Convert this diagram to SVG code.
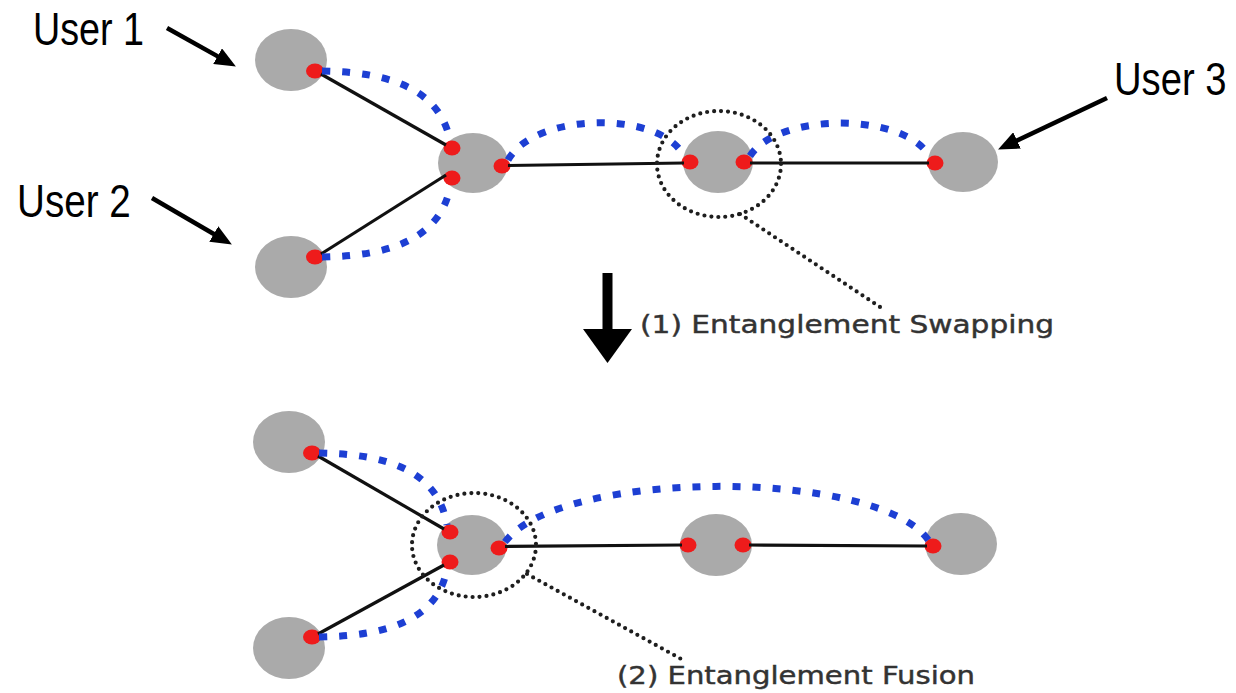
<svg xmlns="http://www.w3.org/2000/svg" width="1236" height="693" viewBox="0 0 1236 693">
  <style>
    .node { fill: #aaaaaa; }
    .port { fill: #ee1b1b; }
    .fiber { fill: none; stroke: #111111; stroke-width: 3.2; }
    .ent { fill: none; stroke: #1d3fd3; stroke-width: 7; stroke-dasharray: 8 12; }
    .ring { fill: none; stroke: #1e1e1e; stroke-width: 4.2; stroke-linecap: round; stroke-dasharray: 0 7; }
    .pointer { fill: none; stroke: #000000; stroke-width: 4.5; }
    .user { font-family: "Liberation Sans", Arial, sans-serif; font-size: 46px; fill: #000000; }
    .step { font-family: "DejaVu Sans", Verdana, sans-serif; font-size: 25px; fill: #333333; stroke: #333333; stroke-width: 0.45; }
  </style>
  <defs>
    <marker id="head" markerUnits="userSpaceOnUse" markerWidth="22" markerHeight="18" refX="10" refY="9" orient="auto">
      <path d="M0,0 L21,9 L0,18 z" fill="#000000"/>
    </marker>
  </defs>

  <rect width="1236" height="693" fill="#ffffff"/>

  <!-- upper network: before swapping -->
  <g id="top-user1"><ellipse class="node" cx="291" cy="60" rx="36" ry="31"/><ellipse class="port" cx="315" cy="71" rx="9" ry="7.5"/></g>
  <g id="top-user2"><ellipse class="node" cx="291" cy="267" rx="36" ry="31"/><ellipse class="port" cx="315" cy="257" rx="9" ry="7.5"/></g>
  <g id="top-hub"><ellipse class="node" cx="473" cy="163" rx="35" ry="30"/><ellipse class="port" cx="452" cy="148" rx="8.5" ry="7.5"/><ellipse class="port" cx="452" cy="178" rx="8.5" ry="7.5"/><ellipse class="port" cx="502" cy="166" rx="8.5" ry="7.5"/></g>
  <g id="top-repeater"><ellipse class="node" cx="718" cy="162" rx="35" ry="31"/><ellipse class="port" cx="690" cy="162" rx="8.5" ry="7.5"/><ellipse class="port" cx="744" cy="162" rx="8.5" ry="7.5"/></g>
  <g id="top-user3"><ellipse class="node" cx="963" cy="162" rx="35" ry="30"/><ellipse class="port" cx="935" cy="163" rx="8.5" ry="7.5"/></g>

  <!-- lower network: after fusion -->
  <g id="bottom-user1"><ellipse class="node" cx="289" cy="442" rx="36" ry="31"/><ellipse class="port" cx="312" cy="453" rx="9" ry="7.5"/></g>
  <g id="bottom-user2"><ellipse class="node" cx="289" cy="648" rx="36" ry="31"/><ellipse class="port" cx="312" cy="637" rx="9" ry="7.5"/></g>
  <g id="bottom-hub"><ellipse class="node" cx="472" cy="545" rx="35" ry="30"/><ellipse class="port" cx="450" cy="532" rx="8.5" ry="7.5"/><ellipse class="port" cx="450" cy="562" rx="8.5" ry="7.5"/><ellipse class="port" cx="499" cy="548" rx="8.5" ry="7.5"/></g>
  <g id="bottom-repeater"><ellipse class="node" cx="716" cy="545" rx="36" ry="31"/><ellipse class="port" cx="688" cy="545" rx="8.5" ry="7.5"/><ellipse class="port" cx="743" cy="545" rx="8.5" ry="7.5"/></g>
  <g id="bottom-user3"><ellipse class="node" cx="961" cy="544" rx="36" ry="31"/><ellipse class="port" cx="933" cy="546" rx="8.5" ry="7.5"/></g>

  <g id="connectors">
    <!-- physical channels -->
    <line class="fiber" x1="321" y1="74" x2="446" y2="145"/>
    <line class="fiber" x1="321" y1="254" x2="446" y2="175"/>
    <line class="fiber" x1="508" y1="165.5" x2="684" y2="163"/>
    <line class="fiber" x1="750" y1="163" x2="929" y2="163"/>
    <line class="fiber" x1="318" y1="456" x2="444" y2="529"/>
    <line class="fiber" x1="318" y1="634" x2="444" y2="565"/>
    <line class="fiber" x1="505" y1="546.5" x2="682" y2="545"/>
    <line class="fiber" x1="749" y1="545" x2="927" y2="546"/>

    <!-- entangled links -->
    <path class="ent" d="M322 71 C395 72 440 92 450 140"/>
    <path class="ent" d="M322 257 C395 256 440 236 450 188"/>
    <path class="ent" d="M508 160 C535 112 660 110 684 156"/>
    <path class="ent" d="M750 156 C778 112 905 112 930 157"/>
    <path class="ent" d="M319 453 C390 454 438 472 447 525"/>
    <path class="ent" d="M319 637 C390 636 438 618 447 569"/>
    <path class="ent" d="M505 542 C560 468 880 468 929 541"/>
  </g>

  <!-- operation callouts -->
  <g id="swap-callout">
    <ellipse class="ring" cx="719" cy="164" rx="62" ry="53"/>
    <line class="ring" x1="740" y1="214" x2="880" y2="307"/>
    <text class="step" x="640" y="333" textLength="414" lengthAdjust="spacingAndGlyphs">(1) Entanglement Swapping</text>
  </g>
  <g id="fusion-callout">
    <ellipse class="ring" cx="474" cy="545" rx="62" ry="52"/>
    <line class="ring" x1="527" y1="574" x2="683" y2="660"/>
    <text class="step" x="617" y="684" textLength="358" lengthAdjust="spacingAndGlyphs">(2) Entanglement Fusion</text>
  </g>

  <!-- step arrow -->
  <g id="step-arrow">
    <rect x="602.5" y="273" width="10" height="58" fill="#000000"/>
    <polygon points="583,329 632,329 607.5,363" fill="#000000"/>
  </g>

  <!-- user labels (narrow face: regular sans squeezed horizontally) -->
  <g id="labels">
    <text class="user" transform="translate(33 45) scale(0.82 1)">User 1</text>
    <text class="user" transform="translate(17 217) scale(0.84 1)">User 2</text>
    <text class="user" transform="translate(1114 95) scale(0.83 1)">User 3</text>
    <line class="pointer" x1="167" y1="28" x2="226.3" y2="61.1" marker-end="url(#head)"/>
    <line class="pointer" x1="152" y1="198" x2="222.4" y2="239" marker-end="url(#head)"/>
    <line class="pointer" x1="1107" y1="98" x2="1008" y2="144.7" marker-end="url(#head)"/>
  </g>
</svg>
